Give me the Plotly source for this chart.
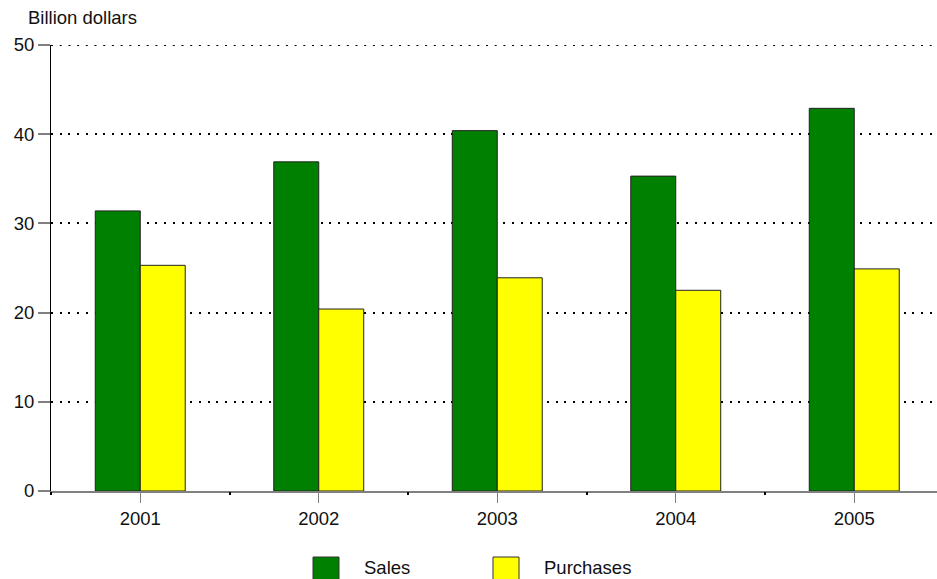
import plotly.graph_objects as go

# Annual totals, billion dollars
years = ["2001", "2002", "2003", "2004", "2005"]
sales = [31.4, 36.9, 40.4, 35.3, 42.9]
purchases = [25.3, 20.4, 23.9, 22.5, 24.9]
y_ticks = [0, 10, 20, 30, 40, 50]

W, H = 937, 579
L, R, T, B = 51, 0, 45, 88
plot_w = W - L - R
plot_h = H - T - B

FONT = "Liberation Sans, Arial, sans-serif"
FS = 18.5
GREEN = "#008000"
YELLOW = "#FFFF00"
GRID_DASH = "2px,6.7px"


def px_x(px):
    return (px - L) / plot_w


def px_y(py):
    return (H - B - py) / plot_h


fig = go.Figure()
fig.add_trace(go.Bar(
    x=years, y=sales, name="Sales",
    marker=dict(color=GREEN, line=dict(color="#222222", width=1)),
))
fig.add_trace(go.Bar(
    x=years, y=purchases, name="Purchases",
    marker=dict(color=YELLOW, line=dict(color="#222222", width=1)),
))
# invisible trace carrying the overlay axis with boundary tick dots
fig.add_trace(go.Scatter(
    x=years, y=[None] * len(years), xaxis="x2", mode="markers",
    hoverinfo="skip", showlegend=False,
))

shapes = []
annotations = []

# plotly drops the gridline that sits on the top edge; draw it explicitly
shapes.append(dict(
    type="line", xref="paper", yref="y", layer="below",
    x0=0, x1=1, y0=y_ticks[-1], y1=y_ticks[-1],
    line=dict(color="black", width=2, dash=GRID_DASH),
))

# Legend drawn as swatches + labels below the axis
for name, color, x0, tx in [("Sales", GREEN, 313, 362), ("Purchases", YELLOW, 493, 542)]:
    shapes.append(dict(
        type="rect", xref="paper", yref="paper",
        x0=px_x(x0), x1=px_x(x0 + 26), y0=px_y(557), y1=px_y(583),
        fillcolor=color, line=dict(color="#333333", width=1),
    ))
    annotations.append(dict(
        text=name, xref="paper", yref="paper", x=px_x(tx), y=px_y(567),
        xanchor="left", yanchor="middle", showarrow=False,
        font=dict(family=FONT, size=FS, color="#111111"),
    ))

annotations.append(dict(
    text="Billion dollars", xref="paper", yref="paper",
    x=px_x(26), y=px_y(18), xanchor="left", yanchor="middle", showarrow=False,
    font=dict(family=FONT, size=FS, color="#111111"),
))

x_range = [-0.5, -0.5 + plot_w / 178.5]

fig.update_layout(
    width=W, height=H,
    margin=dict(l=L, r=R, t=T, b=B, pad=0),
    paper_bgcolor="white", plot_bgcolor="white",
    barmode="group", bargap=0.496, bargroupgap=0,
    showlegend=False,
    font=dict(family=FONT, size=FS, color="#111111"),
    shapes=shapes, annotations=annotations,
    xaxis=dict(
        type="category", categoryorder="array", categoryarray=years,
        range=x_range,
        showgrid=False, zeroline=False,
        showline=True, linecolor="#808080", linewidth=2,
        ticks="outside", ticklen=10, tickcolor="#808080", tickwidth=1,
        tickfont=dict(family=FONT, size=FS, color="#111111"),
        fixedrange=True,
    ),
    xaxis2=dict(
        type="category", categoryorder="array", categoryarray=years,
        overlaying="x", side="bottom", anchor="y",
        range=x_range, tickson="boundaries",
        showgrid=False, zeroline=False, showline=False, showticklabels=False,
        ticks="outside", ticklen=3, tickcolor="black", tickwidth=2,
        fixedrange=True,
    ),
    yaxis=dict(
        range=[0, 50], tickvals=y_ticks,
        showgrid=True, gridcolor="black", gridwidth=2, griddash=GRID_DASH,
        zeroline=False,
        showline=True, linecolor="black", linewidth=1,
        ticks="outside", ticklen=12, tickcolor="#808080", tickwidth=2,
        tickfont=dict(family=FONT, size=FS, color="#111111"),
        fixedrange=True,
    ),
)

fig.write_html("out.html")
